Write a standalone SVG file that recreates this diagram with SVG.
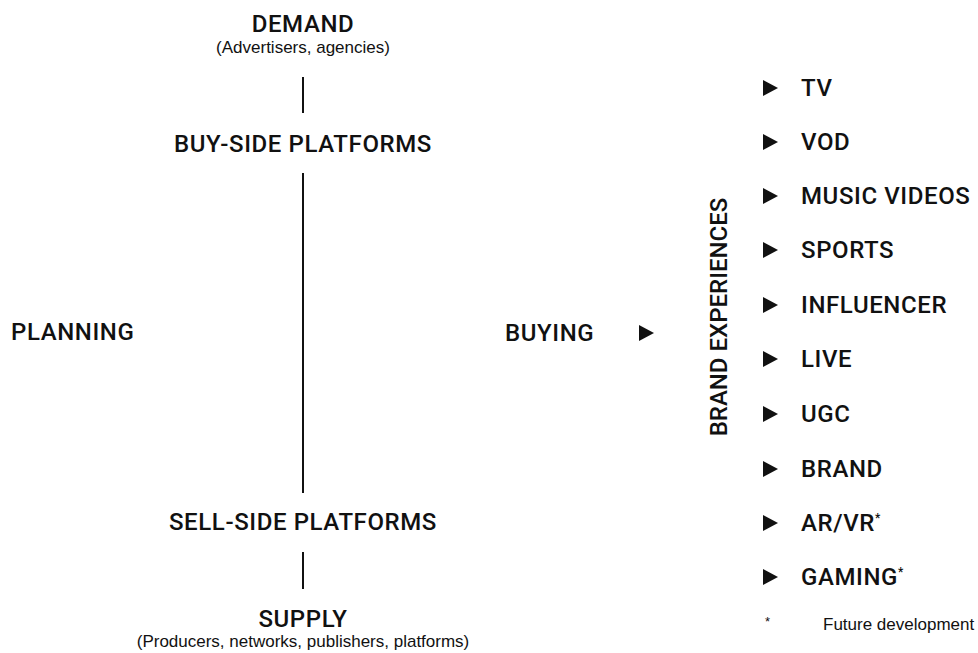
<svg xmlns="http://www.w3.org/2000/svg" width="978" height="653" viewBox="0 0 978 653">
  <style>
    .h { font-family: Roboto, "Liberation Sans", sans-serif; font-weight: 500; font-size: 24px; fill: #111; letter-spacing: 0.6px; }
    .s { font-family: "Liberation Sans", Arial, sans-serif; font-size: 17px; fill: #111; }
    .mid { text-anchor: middle; }
    .sup { font-size: 12px; }
    .conn { stroke: #111; stroke-width: 2; fill: none; }
    .tri { fill: #111; }
  </style>
  <defs>
    <path id="tri" d="M0,-8 L15,0 L0,8 Z"/>
  </defs>
  <rect width="978" height="653" fill="#fff"/>

  <g id="connectors">
    <line class="conn" x1="303" y1="77" x2="303" y2="113"/>
    <line class="conn" x1="303" y1="173" x2="303" y2="493"/>
    <line class="conn" x1="303" y1="552" x2="303" y2="589"/>
  </g>

  <g id="demand">
    <text class="h mid" x="303" y="32">DEMAND</text>
    <text class="s mid" x="303" y="53">(Advertisers, agencies)</text>
  </g>
  <g id="buy-side">
    <text class="h mid" x="303" y="152">BUY-SIDE PLATFORMS</text>
  </g>
  <g id="planning">
    <text class="h" x="11" y="340">PLANNING</text>
  </g>
  <g id="sell-side">
    <text class="h mid" x="303" y="530">SELL-SIDE PLATFORMS</text>
  </g>
  <g id="supply">
    <text class="h mid" x="303" y="627">SUPPLY</text>
    <text class="s mid" x="303" y="647">(Producers, networks, publishers, platforms)</text>
  </g>
  <g id="buying">
    <text class="h" x="505" y="341">BUYING</text>
    <use href="#tri" class="tri" x="639" y="333"/>
  </g>
  <g id="brand-experiences">
    <text class="h mid" transform="translate(727,317) rotate(-90)" style="letter-spacing:0">BRAND EXPERIENCES</text>
  </g>

  <g id="item-tv"><use href="#tri" class="tri" x="763" y="88"/><text class="h" x="801" y="96">TV</text></g>
  <g id="item-vod"><use href="#tri" class="tri" x="763" y="142"/><text class="h" x="801" y="150">VOD</text></g>
  <g id="item-music"><use href="#tri" class="tri" x="763" y="196"/><text class="h" x="801" y="204">MUSIC VIDEOS</text></g>
  <g id="item-sports"><use href="#tri" class="tri" x="763" y="250"/><text class="h" x="801" y="258">SPORTS</text></g>
  <g id="item-influencer"><use href="#tri" class="tri" x="763" y="305"/><text class="h" x="801" y="313">INFLUENCER</text></g>
  <g id="item-live"><use href="#tri" class="tri" x="763" y="359"/><text class="h" x="801" y="367">LIVE</text></g>
  <g id="item-ugc"><use href="#tri" class="tri" x="763" y="414"/><text class="h" x="801" y="422">UGC</text></g>
  <g id="item-brand"><use href="#tri" class="tri" x="763" y="469"/><text class="h" x="801" y="477">BRAND</text></g>
  <g id="item-arvr"><use href="#tri" class="tri" x="763" y="523"/><text class="h" x="801" y="531">AR/VR<tspan class="sup" dy="-9">*</tspan></text></g>
  <g id="item-gaming"><use href="#tri" class="tri" x="763" y="577"/><text class="h" x="801" y="585">GAMING<tspan class="sup" dy="-9">*</tspan></text></g>

  <g id="footnote">
    <text class="s" x="765" y="630"><tspan font-size="13" dy="-4">*</tspan><tspan x="823" dy="4">Future development</tspan></text>
  </g>
</svg>
